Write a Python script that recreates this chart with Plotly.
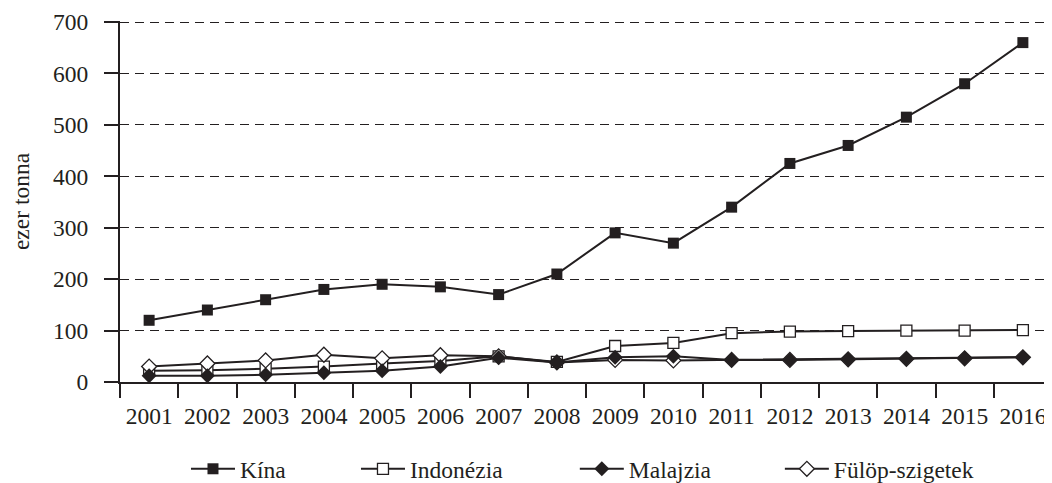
import plotly.graph_objects as go

years = [str(y) for y in range(2001, 2017)]
kina = [120, 140, 160, 180, 190, 185, 170, 210, 290, 270, 340, 425, 460, 515, 580, 660]
indonezia = [22, 23, 26, 30, 36, 41, 50, 39, 70, 76, 95, 98, 99, 100, 100, 101]
malajzia = [12, 12, 14, 18, 22, 30, 47, 38, 48, 50, 43, 43, 44, 45, 46, 48]
fulop = [30, 36, 42, 53, 46, 52, 50, 38, 43, 42, 43, 43, 44, 45, 46, 48]

INK = "#231f20"
FS = 23.5
font = "Liberation Serif, Times New Roman, serif"
fig = go.Figure()

fig.add_trace(go.Scatter(x=years, y=kina, name="Kína", mode="lines+markers",
                         line=dict(color=INK, width=2),
                         marker=dict(symbol="square", size=11, color=INK),
                         legend="legend"))
fig.add_trace(go.Scatter(x=years, y=indonezia, name="Indonézia", mode="lines+markers",
                         line=dict(color=INK, width=2),
                         marker=dict(symbol="square", size=11, color="white",
                                     line=dict(color=INK, width=1.3)),
                         legend="legend2"))
fig.add_trace(go.Scatter(x=years, y=fulop, name="Fülöp-szigetek", mode="lines+markers",
                         line=dict(color=INK, width=2),
                         marker=dict(symbol="diamond", size=11.5, color="white",
                                     line=dict(color=INK, width=1.3)),
                         legend="legend4"))
fig.add_trace(go.Scatter(x=years, y=malajzia, name="Malajzia", mode="lines+markers",
                         line=dict(color=INK, width=2),
                         marker=dict(symbol="diamond", size=11.5, color=INK),
                         legend="legend3"))

leg_y = -0.241
def leg(x):
    return dict(orientation="h", x=x, xanchor="left", y=leg_y, yanchor="middle",
                font=dict(size=FS, family=font, color=INK), itemwidth=44,
                bgcolor="rgba(0,0,0,0)")

fig.update_layout(
    width=1044, height=475,
    margin=dict(l=112, r=0, t=13, b=101, autoexpand=False),
    paper_bgcolor="white", plot_bgcolor="white",
    font=dict(family=font, size=FS, color=INK),
    showlegend=True,
    legend=leg(0.0708),
    legend2=leg(0.2532),
    legend3=leg(0.488),
    legend4=leg(0.708),
    xaxis=dict(type="category", range=[-0.5, 15.5], tickson="boundaries",
               ticks="outside", ticklen=14, tickcolor=INK, tickwidth=2,
               showline=True, linecolor=INK, linewidth=2, showgrid=False,
               zeroline=False, ticklabelstandoff=12, tickfont=dict(size=FS),
               automargin=False),
    yaxis=dict(range=[0, 702], tickvals=[0, 100, 200, 300, 400, 500, 600, 700],
               ticks="outside", ticklen=14,
               tickcolor=INK, tickwidth=2, showline=True, linecolor=INK,
               linewidth=2, showgrid=True, gridcolor=INK, gridwidth=1,
               griddash="9px,6px", zeroline=False, ticklabelstandoff=11,
               ticklabeloverflow="allow", automargin=False,
               title=dict(text="ezer tonna", font=dict(size=FS), standoff=28),
               tickfont=dict(size=FS)),
)

fig.write_html("out.html")
